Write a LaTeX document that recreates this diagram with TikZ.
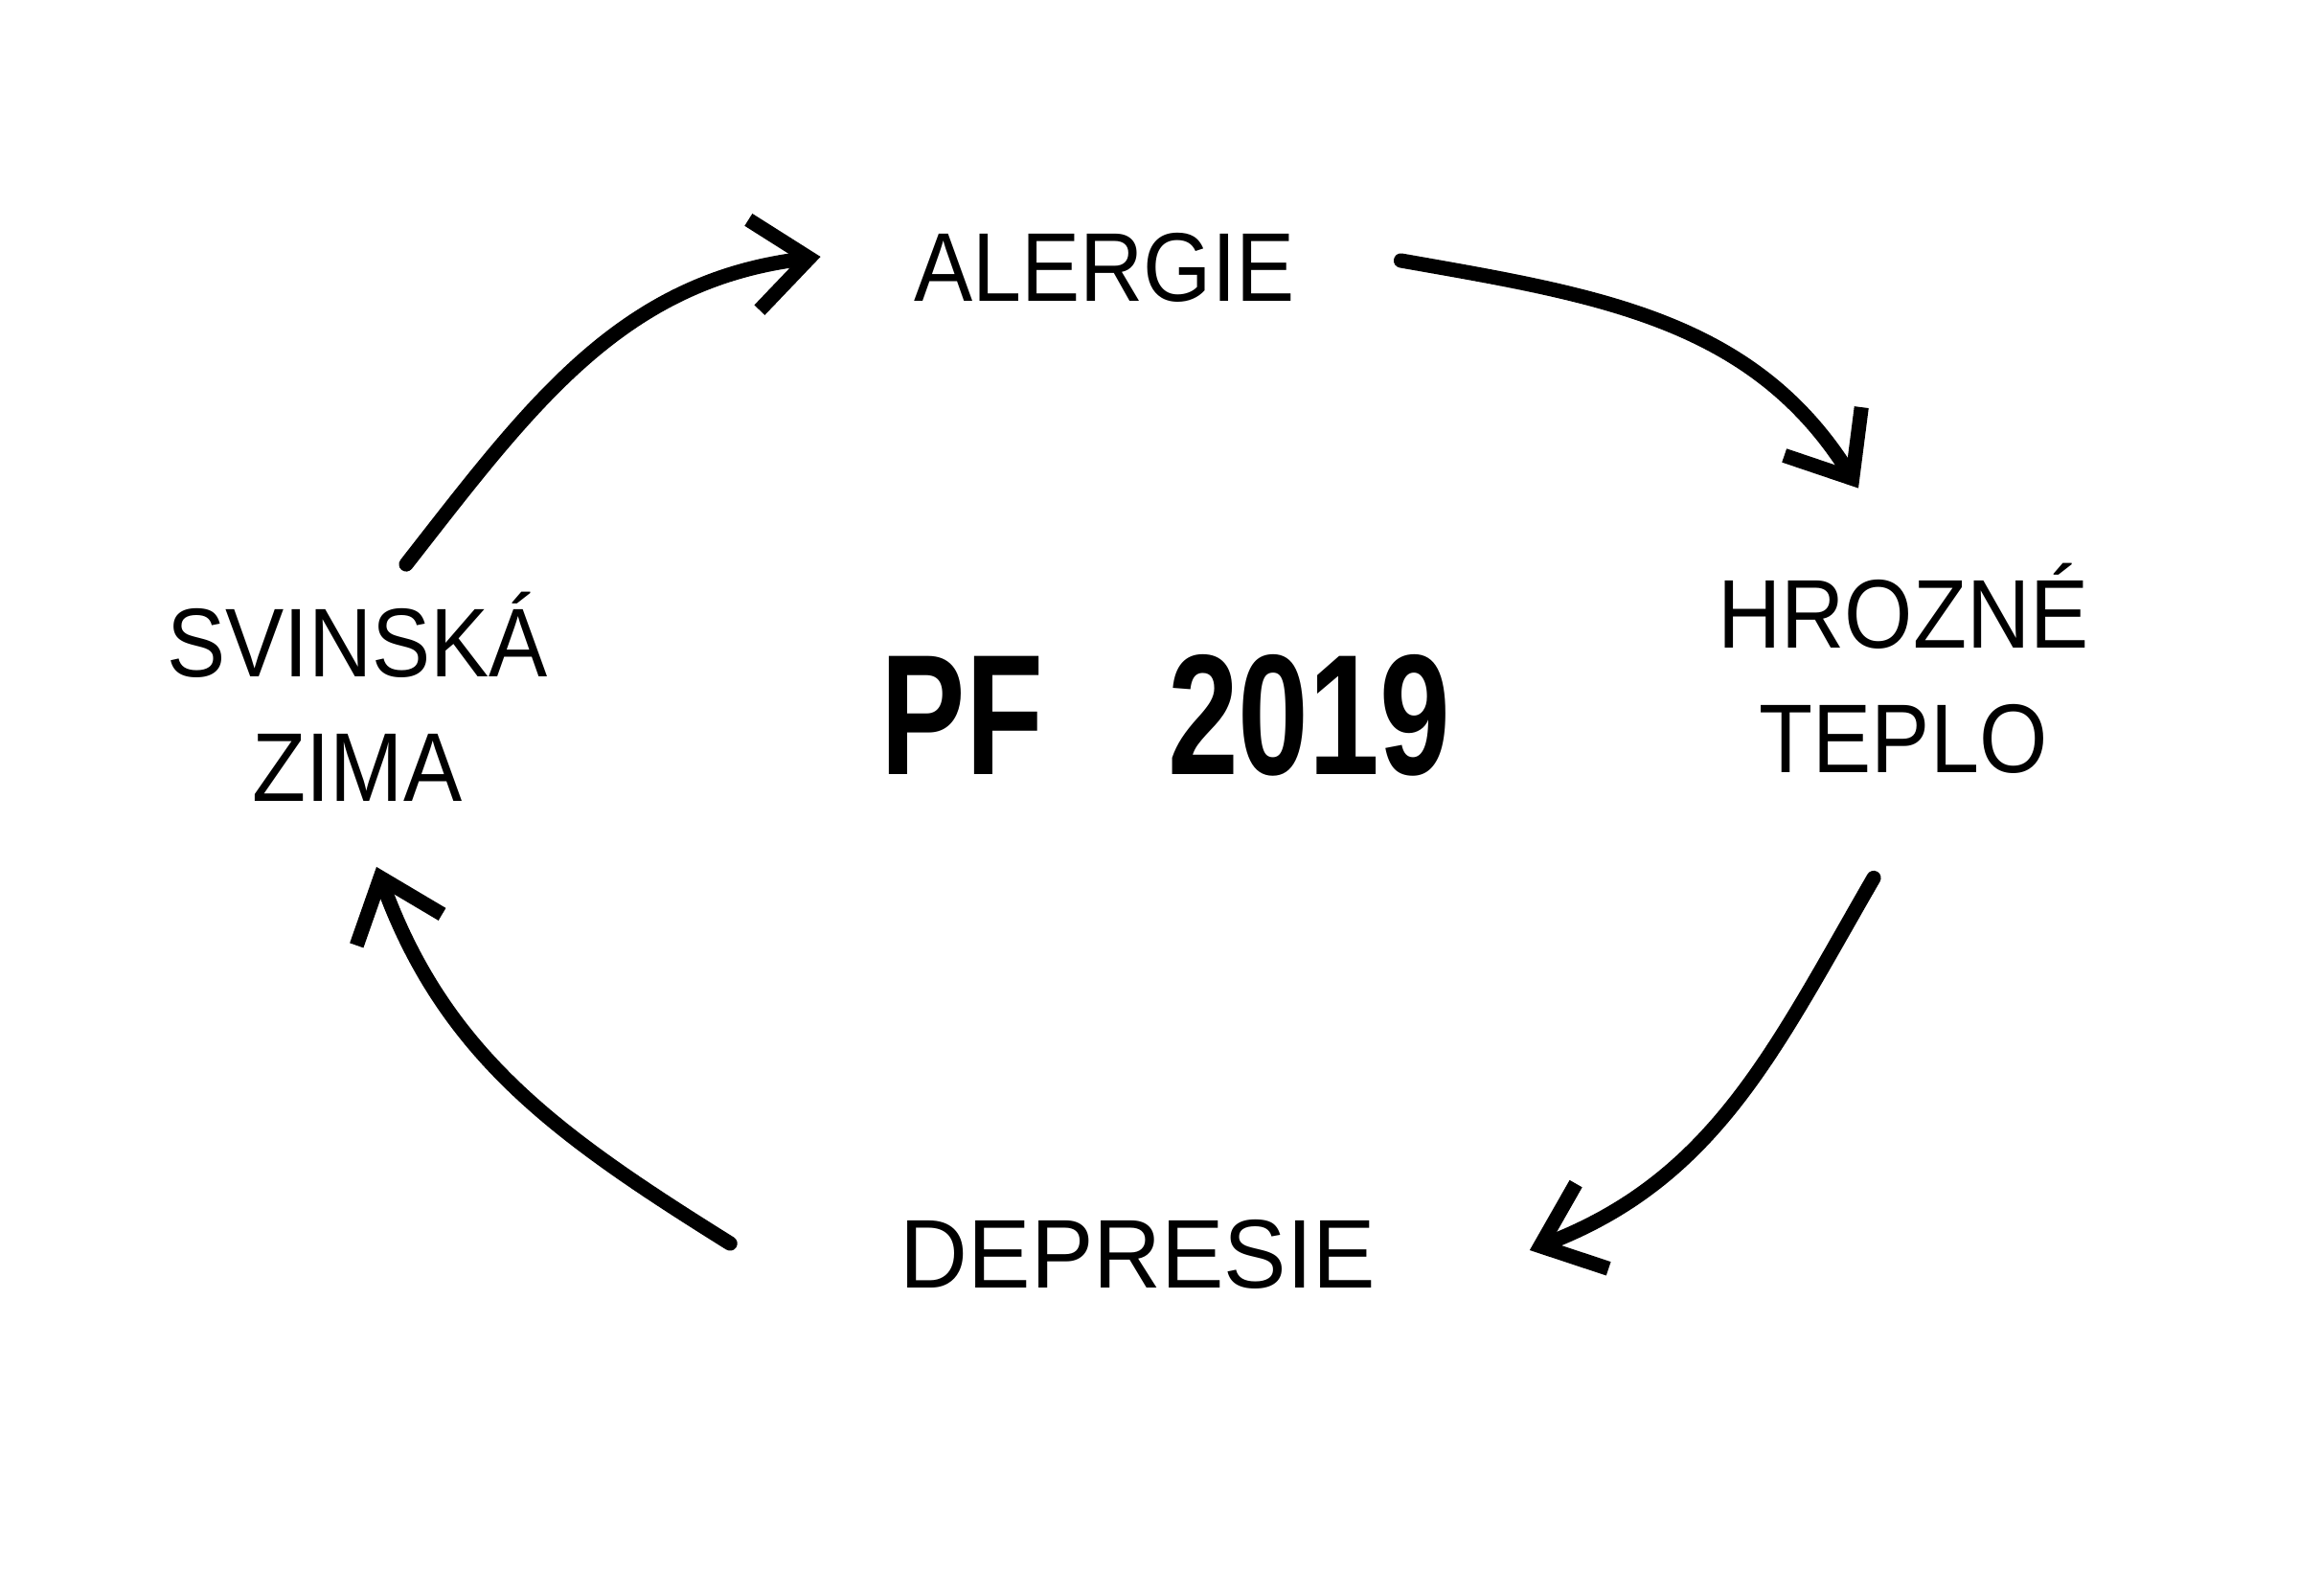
\documentclass[tikz,border=0pt]{standalone}
\usepackage{fontspec}
\setmainfont{Liberation Sans}
\usetikzlibrary{arrows.meta}

\begin{document}
\begin{tikzpicture}[
    lbl/.style={font=\fontsize{29}{37}\selectfont,align=center,inner sep=0pt,xscale=0.9},
    arr/.style={line width=4.3pt,line cap=round,-{Straight Barb[length=5.8mm,width=9.5mm]}}]
    \fill[white] (0,0) rectangle (24,16.65);
    \useasboundingbox (0,0) rectangle (24,16.65);
    \node[lbl] (alergie) at (11.53,13.86) {ALERGIE};
    \node[lbl] (hrozne) at (19.87,9.67) {HROZNÉ\\TEPLO};
    \node[lbl,xscale=1.07] (depresie) at (11.88,3.56) {DEPRESIE};
    \node[lbl] (zima) at (3.73,9.38) {SVINSKÁ\\ZIMA};
    \node[font=\fontsize{51}{60}\selectfont\bfseries,inner sep=0pt,xscale=0.74] (pf) at (12.17,9.18) {PF\hspace{50pt}2019};
    \draw[arr] ([shift={(0.51,0.28)}]zima.north) to[out=52,in=187] ([shift={(-0.97,0.11)}]alergie.west);
    \draw[arr] ([shift={(1.10,0.07)}]alergie.east) to[out=-10,in=122] ([shift={(-0.47,0.78)}]hrozne.north);
    \draw[arr] ([shift={(-0.31,-1.08)}]hrozne.south) to[out=240,in=21] ([shift={(1.60,0.04)}]depresie.east);
    \draw[arr] ([shift={(-1.77,0.11)}]depresie.west) to[out=148,in=290] ([shift={(0.20,-0.68)}]zima.south);
\end{tikzpicture}
\end{document}
